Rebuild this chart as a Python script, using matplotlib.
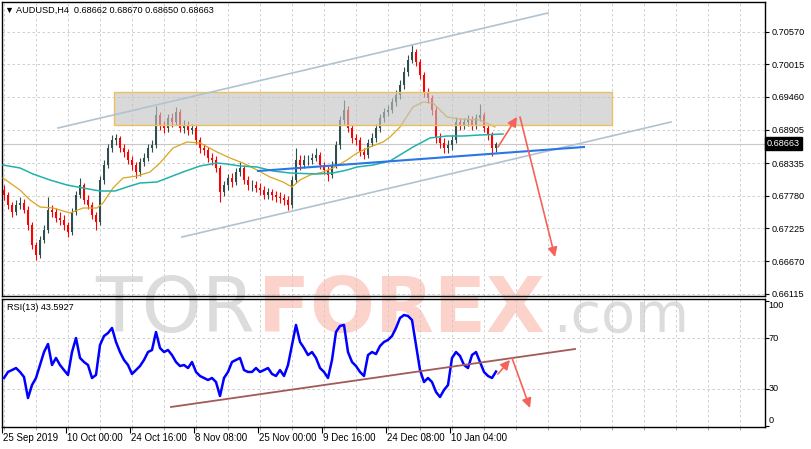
import numpy as np
import matplotlib
matplotlib.use("Agg")
import matplotlib.pyplot as plt
from matplotlib import font_manager
from matplotlib.patches import Rectangle
import matplotlib.transforms as mtransforms

# ---------------- data ----------------
symbol_title = "\u25BC AUDUSD,H4  0.68662 0.68670 0.68650 0.68663"
rsi_title = "RSI(13) 43.5927"
last_price = 0.68663
open_first = 0.6788

close = [0.6779, 0.6762, 0.6750, 0.6762, 0.6766, 0.6754, 0.6728, 0.6694, 0.6677, 0.6703,
         0.6720, 0.6754, 0.6750, 0.6740, 0.6737, 0.6728, 0.6716, 0.6750, 0.6779, 0.6796,
         0.6771, 0.6762, 0.6745, 0.6733, 0.6805, 0.6830, 0.6859, 0.6873, 0.6876, 0.6859,
         0.6852, 0.6839, 0.6830, 0.6818, 0.6835, 0.6842, 0.6859, 0.6864, 0.6915, 0.6898,
         0.6893, 0.6910, 0.6903, 0.6920, 0.6893, 0.6898, 0.6890, 0.6893, 0.6873, 0.6859,
         0.6856, 0.6842, 0.6839, 0.6825, 0.6784, 0.6796, 0.6808, 0.6801, 0.6818, 0.6825,
         0.6805, 0.6796, 0.6796, 0.6791, 0.6788, 0.6779, 0.6784, 0.6779, 0.6776, 0.6774,
         0.6771, 0.6762, 0.6805, 0.6839, 0.6830, 0.6839, 0.6839, 0.6842, 0.6847, 0.6830,
         0.6822, 0.6813, 0.6830, 0.6864, 0.6907, 0.6924, 0.6893, 0.6876, 0.6873, 0.6852,
         0.6847, 0.6868, 0.6876, 0.6893, 0.6910, 0.6920, 0.6924, 0.6937, 0.6949, 0.6966,
         0.6988, 0.7009, 0.7022, 0.7005, 0.6983, 0.6954, 0.6944, 0.6924, 0.6876, 0.6868,
         0.6859, 0.6864, 0.6873, 0.6903, 0.6898, 0.6903, 0.6907, 0.6898, 0.6910, 0.6915,
         0.6893, 0.6881, 0.6859, 0.68663]

high = [0.6797, 0.6785, 0.6768, 0.6771, 0.6776, 0.6772, 0.6760, 0.6733, 0.6700, 0.6710,
        0.6728, 0.6776, 0.6762, 0.6757, 0.6750, 0.6745, 0.6733, 0.6757, 0.6786, 0.6808,
        0.6800, 0.6779, 0.6767, 0.6750, 0.6812, 0.6838, 0.6866, 0.6881, 0.6883, 0.6880,
        0.6866, 0.6857, 0.6845, 0.6836, 0.6842, 0.6850, 0.6866, 0.6872, 0.6930, 0.6920,
        0.6905, 0.6917, 0.6918, 0.6929, 0.6925, 0.6906, 0.6905, 0.6900, 0.6898, 0.6878,
        0.6866, 0.6861, 0.6850, 0.6845, 0.6830, 0.6803, 0.6815, 0.6816, 0.6825, 0.6835,
        0.6830, 0.6811, 0.6805, 0.6803, 0.6799, 0.6795, 0.6792, 0.6790, 0.6786, 0.6784,
        0.6781, 0.6777, 0.6812, 0.6860, 0.6848, 0.6847, 0.6848, 0.6850, 0.6859, 0.6852,
        0.6836, 0.6828, 0.6837, 0.6871, 0.6914, 0.6940, 0.6930, 0.6898, 0.6883, 0.6878,
        0.6860, 0.6875, 0.6884, 0.6900, 0.6917, 0.6927, 0.6932, 0.6945, 0.6958, 0.6975,
        0.6997, 0.7018, 0.7034, 0.7028, 0.7010, 0.6988, 0.6962, 0.6950, 0.6930, 0.6884,
        0.6876, 0.6872, 0.6881, 0.6912, 0.6910, 0.6911, 0.6915, 0.6913, 0.6917, 0.6934,
        0.6920, 0.6898, 0.6886, 0.6870]

low = [0.6770, 0.6755, 0.6742, 0.6745, 0.6755, 0.6748, 0.6720, 0.6688, 0.6669, 0.6672,
       0.6698, 0.6715, 0.6742, 0.6733, 0.6728, 0.6720, 0.6708, 0.6712, 0.6745, 0.6774,
       0.6764, 0.6755, 0.6738, 0.6719, 0.6728, 0.6798, 0.6825, 0.6852, 0.6864, 0.6852,
       0.6844, 0.6832, 0.6822, 0.6808, 0.6812, 0.6828, 0.6837, 0.6852, 0.6860, 0.6890,
       0.6884, 0.6887, 0.6895, 0.6898, 0.6886, 0.6885, 0.6882, 0.6883, 0.6866, 0.6851,
       0.6848, 0.6835, 0.6830, 0.6818, 0.6768, 0.6777, 0.6788, 0.6793, 0.6796, 0.6812,
       0.6798, 0.6788, 0.6786, 0.6784, 0.6780, 0.6772, 0.6773, 0.6771, 0.6768, 0.6765,
       0.6763, 0.6754, 0.6757, 0.6800, 0.6822, 0.6825, 0.6830, 0.6832, 0.6837, 0.6823,
       0.6815, 0.6803, 0.6808, 0.6825, 0.6858, 0.6900, 0.6886, 0.6868, 0.6864, 0.6845,
       0.6840, 0.6842, 0.6862, 0.6870, 0.6887, 0.6904, 0.6914, 0.6918, 0.6930, 0.6942,
       0.6960, 0.6982, 0.7003, 0.6998, 0.6976, 0.6946, 0.6935, 0.6916, 0.6868, 0.6860,
       0.6850, 0.6851, 0.6856, 0.6868, 0.6890, 0.6891, 0.6896, 0.6890, 0.6891, 0.6905,
       0.6886, 0.6873, 0.6845, 0.6852]

rsi = [38.5, 43.3, 44.8, 46.4, 43.3, 39.3, 22.6, 32.9, 38.5, 48.8,
       59.1, 65.5, 48.8, 54.4, 48.8, 44.8, 40.9, 59.1, 70.2, 54.4,
       51.2, 48.8, 38.5, 40.9, 64.7, 71.8, 74.2, 78.2, 67.1, 59.1,
       52.8, 48.8, 41.7, 44.8, 48.0, 52.8, 59.1, 60.7, 75.0, 62.3,
       59.1, 60.7, 56.7, 51.2, 48.0, 48.8, 46.4, 51.2, 43.3, 40.1,
       38.5, 36.9, 38.5, 35.3, 24.2, 38.5, 43.3, 51.2, 52.8, 54.4,
       44.8, 43.3, 43.3, 46.4, 43.3, 44.8, 46.4, 41.7, 40.1, 44.8,
       40.1, 48.8, 64.7, 80.6, 67.1, 62.3, 56.7, 59.1, 54.4, 46.4,
       43.3, 38.5, 52.8, 75.0, 79.8, 80.6, 59.1, 51.2, 48.0, 43.3,
       40.1, 56.7, 59.1, 57.5, 63.9, 67.1, 68.7, 71.8, 78.2, 86.1,
       88.5, 87.7, 84.5, 64.7, 44.8, 35.3, 38.5, 35.3, 27.4, 23.4,
       29.0, 32.9, 54.4, 59.1, 56.0, 48.8, 46.4, 56.7, 59.1, 51.2,
       43.3, 40.1, 38.5, 43.59]

# moving averages (bar position, price)
ma_fast_x = [-0.25, 4, 6.5, 9, 12.25, 16.5, 19.75, 23.25, 24.75, 27.25, 29.75, 33.25, 36.5, 39,
             42.25, 45.75, 49, 53.25, 56.5, 59.75, 63.25, 66.5, 69.75, 72, 74, 76.5, 79.75, 82.25,
             85.75, 88.25, 91.5, 94.75, 96.5, 99, 102.25, 104.75, 107.25, 110.75, 114, 119, 122.75]
ma_fast_y = [0.68082, 0.67878, 0.67708, 0.67589, 0.67572, 0.67487, 0.67572, 0.67572, 0.67657,
             0.67912, 0.68082, 0.68116, 0.68184, 0.68337, 0.68592, 0.68694, 0.68677, 0.68524,
             0.68422, 0.68337, 0.68218, 0.68099, 0.68014, 0.67929, 0.68048, 0.68133, 0.68184,
             0.68252, 0.68388, 0.68507, 0.68609, 0.68694, 0.68779, 0.68949, 0.69289, 0.69374,
             0.69357, 0.69119, 0.69085, 0.69068, 0.68949]
ma_slow_x = [-0.25, 4, 7.25, 11.5, 15.75, 19.75, 24, 27.75, 30.75, 34, 38.25, 41.5, 44.75, 49,
             53.25, 55.75, 59, 63.25, 67.25, 71.5, 78.25, 82.25, 85.75, 88.25, 92.25, 96.5,
             102.25, 106.5, 110.75, 114.75, 119, 124.75]
ma_slow_y = [0.68303, 0.68252, 0.68150, 0.68048, 0.67963, 0.67912, 0.67861, 0.67861, 0.67929,
             0.67997, 0.68014, 0.68099, 0.68184, 0.68286, 0.68337, 0.68320, 0.68286, 0.68269,
             0.68201, 0.68167, 0.68150, 0.68167, 0.68218, 0.68269, 0.68303, 0.68371, 0.68609,
             0.68762, 0.68796, 0.68796, 0.68813, 0.68830]

price_ticks = [0.70570, 0.70015, 0.69460, 0.68905, 0.68335, 0.67780, 0.67225, 0.66670, 0.66115]
date_labels = ["25 Sep 2019", "10 Oct 00:00", "24 Oct 16:00", "8 Nov 08:00",
               "25 Nov 00:00", "9 Dec 16:00", "24 Dec 08:00", "10 Jan 04:00"]
date_bars = [0, 16, 32, 48, 64, 80, 96, 112]
rsi_levels = [100, 70, 30, 0]

# analyst drawings
zone = (27.5, 152.0, 0.68985, 0.69544)
channel_upper = [(13.5, 0.68932), (136.0, 0.70887)]
channel_lower = [(44.5, 0.67079), (166.75, 0.69034)]
support_line = [(63.5, 0.68201), (145.0, 0.68609)]
arrow_up = [(123.5, 0.68609), (128.25, 0.6912)]
arrow_down = [(129.0, 0.6912), (137.75, 0.66739)]
rsi_trend = [(41.75, 15.5), (142.75, 61.5)]
rsi_arrow_up = [(123.5, 41.7), (126.5, 52.8)]
rsi_arrow_down = [(127.0, 54.4), (131.5, 14.7)]

# ---------------- fonts ----------------
available = {f.name for f in font_manager.fontManager.ttflist}
UI = "Liberation Sans" if "Liberation Sans" in available else "DejaVu Sans"
NARROW = "Liberation Sans Narrow" if "Liberation Sans Narrow" in available else None
UIF = [UI, "DejaVu Sans"]

W, H = 811, 449
fig = plt.figure(figsize=(W / 100, H / 100), dpi=100, facecolor="white")

def fr(px_l, px_t, px_r, px_b):
    return [px_l / W, 1 - px_b / H, (px_r - px_l) / W, (px_b - px_t) / H]

ax = fig.add_axes(fr(2, 2, 765, 296))
ax2 = fig.add_axes(fr(2, 299, 765, 427))
for a in (ax, ax2):
    a.set_facecolor("none")
    for s in a.spines.values():
        s.set_color("black")
        s.set_linewidth(1.0)

# ---------------- watermark ----------------
base_y = 1 - 332 / H
if NARROW:
    fig.text(95 / W, base_y, "TOR", fontsize=73, family=NARROW, color="#dcdcdc", zorder=-5)
    fig.text(258 / W, base_y, "FOREX", fontsize=73, family=NARROW, fontweight="bold",
             color="#fcd3cb", zorder=-5)
    fig.text(553 / W, base_y, ".com", fontsize=50, family=NARROW, color="#dcdcdc", zorder=-5)
else:
    fig.text(95 / W, base_y, "TOR", fontsize=55, family="DejaVu Sans", color="#dcdcdc", zorder=-5)
    fig.text(258 / W, base_y, "FOREX", fontsize=55, family="DejaVu Sans", fontweight="bold",
             color="#fcd3cb", zorder=-5)
    fig.text(553 / W, base_y, ".com", fontsize=40, family="DejaVu Sans", color="#dcdcdc", zorder=-5)

# ---------------- main price panel ----------------
n = len(close)
x = np.arange(n)
opens = np.array([open_first] + close[:-1])
cl = np.array(close)
hi = np.array(high)
lo = np.array(low)
bull = cl >= opens
cols = np.where(bull, "#2f4f4f", "#ff0000")

ax.set_xlim(-0.5, 190.25)
ax.set_ylim(0.66076, 0.71074)

grid_kw = dict(color="#c8c8c8", lw=0.6, ls=(0, (3, 3)))
for gx in np.arange(0, 190, 8):
    ax.axvline(gx, zorder=0, **grid_kw)
    ax2.axvline(gx, zorder=0, **grid_kw)
for gy in price_ticks:
    ax.axhline(gy, zorder=0, **grid_kw)
for gy in (70, 30):
    ax2.axhline(gy, zorder=0, **grid_kw)

ax.axhline(last_price, color="#c8c8c8", lw=0.8, zorder=1)

ax.vlines(x, lo, hi, colors=cols, lw=0.8, zorder=3)
body = np.maximum(np.abs(cl - opens), 0.00004)
ax.bar(x, body, bottom=np.minimum(cl, opens), width=0.72, color=cols, zorder=3, linewidth=0)

ax.plot(ma_fast_x, ma_fast_y, color="#daa520", lw=0.9, zorder=4)
ax.plot(ma_slow_x, ma_slow_y, color="#20b2aa", lw=1.1, zorder=4)

ax.add_patch(Rectangle((zone[0], zone[2]), zone[1] - zone[0], zone[3] - zone[2],
                       facecolor="#c2c2c2", alpha=0.62, edgecolor="none", zorder=5))
ax.add_patch(Rectangle((zone[0], zone[2]), zone[1] - zone[0], zone[3] - zone[2],
                       facecolor="none", edgecolor="#ecc060", lw=1.0, zorder=5))

for (p0, p1), c, lw in ((channel_upper, "#b0c3d1", 1.2), (channel_lower, "#b0c3d1", 1.2),
                        (support_line, "#2a76e6", 1.5)):
    ax.plot([p0[0], p1[0]], [p0[1], p1[1]], color=c, lw=lw, zorder=6)

arrow_kw = dict(arrowstyle="-|>", color="#f5625a", lw=1.2, mutation_scale=14, shrinkA=0, shrinkB=0)
for a0, a1 in (arrow_up, arrow_down):
    ax.annotate("", xy=a1, xytext=a0, arrowprops=arrow_kw, zorder=7)

ax.set_xticks([])
ax.yaxis.tick_right()
ax.set_yticks(price_ticks)
ax.set_yticklabels([f"{v:.5f}" for v in price_ticks])
ax.tick_params(axis="y", direction="out", length=3, width=0.8, pad=1.5, labelsize=6.6,
               colors="black")
for lbl in ax.get_yticklabels():
    lbl.set_family(UIF)

ax.text(1.002, last_price, f"{last_price:.5f}",
        transform=mtransforms.blended_transform_factory(ax.transAxes, ax.transData),
        ha="left", va="center", fontsize=6.6, family=UIF, color="white", zorder=10,
        bbox=dict(boxstyle="square,pad=0.22", fc="black", ec="black"), clip_on=False)

ax.text(0.004, 0.973, symbol_title, transform=ax.transAxes, ha="left", va="center",
        fontsize=6.6, family=UIF, color="black")

# ---------------- RSI panel ----------------
ax2.set_xlim(-0.5, 190.25)
ax2.set_ylim(-0.4, 101.2)
ax2.plot(x, rsi, color="#0000ff", lw=1.8, zorder=4)
ax2.plot([rsi_trend[0][0], rsi_trend[1][0]], [rsi_trend[0][1], rsi_trend[1][1]],
         color="#a05a5a", lw=1.3, zorder=5)
for a0, a1 in (rsi_arrow_up, rsi_arrow_down):
    ax2.annotate("", xy=a1, xytext=a0, arrowprops=arrow_kw, zorder=7)

ax2.yaxis.tick_right()
ax2.set_yticks(rsi_levels)
ax2.set_yticklabels([])
ax2.tick_params(axis="y", direction="out", length=3, width=0.8)
tr = mtransforms.blended_transform_factory(ax2.transAxes, ax2.transData)
for lev, ypos in zip(rsi_levels, (96.4, 70, 30, 4.4)):
    ax2.text(1.005, ypos, str(lev), transform=tr, ha="left", va="center", fontsize=6.6,
             family=UIF, clip_on=False)

ax2.text(0.0066, 0.93, rsi_title, transform=ax2.transAxes, ha="left", va="center",
         fontsize=6.6, family=UIF)

ax2.set_xticks([b - 0.4 for b in date_bars])
ax2.set_xticklabels([])
ax2.set_xticks(np.arange(0, 190, 8), minor=True)
ax2.tick_params(axis="x", which="major", direction="out", length=4, width=0.8)
ax2.tick_params(axis="x", which="minor", direction="out", length=2, width=0.6, colors="#999999")
trx = mtransforms.blended_transform_factory(ax2.transData, ax2.transAxes)
for b, lab in zip(date_bars, date_labels):
    ax2.text(b - 0.2, -0.05, lab, transform=trx, ha="left", va="top", fontsize=7,
             family=UIF, clip_on=False)

fig.savefig("out.png", dpi=100, facecolor="white")
